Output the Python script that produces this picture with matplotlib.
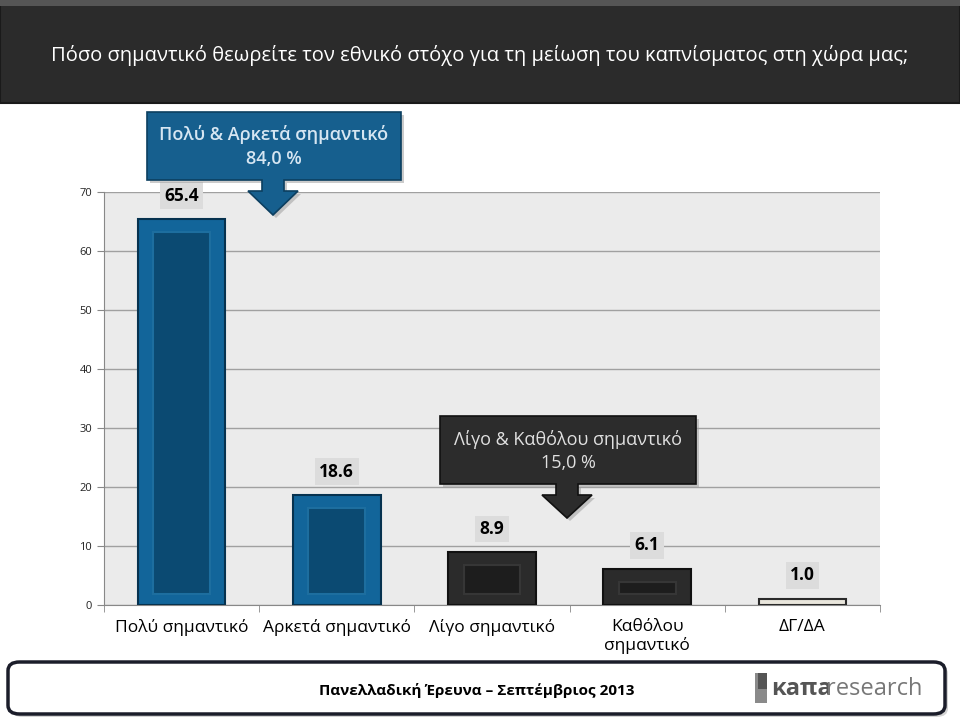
import numpy as np
import matplotlib.pyplot as plt
from matplotlib.patches import Polygon, FancyBboxPatch, Rectangle, Wedge

plt.rcParams['font.family'] = ['Open Sans', 'DejaVu Sans']

# data
categories = ['Πολύ σημαντικό', 'Αρκετά σημαντικό', 'Λίγο σημαντικό',
              'Καθόλου\nσημαντικό', 'ΔΓ/ΔΑ']
values = [65.4, 18.6, 8.9, 6.1, 1.0]
labels = ['65.4', '18.6', '8.9', '6.1', '1.0']
title = 'Πόσο σημαντικό θεωρείτε τον εθνικό στόχο για τη μείωση του καπνίσματος στη χώρα μας;'
callout_top = ['Πολύ & Αρκετά σημαντικό', '84,0 %']
callout_low = ['Λίγο & Καθόλου σημαντικό', '15,0 %']
footer = 'Πανελλαδική Έρευνα – Σεπτέμβριος 2013'

# bar styles (outer, outer edge, inner, inner edge)
styles = [('#12659a', '#06324f', '#0b4a72', '#1d6e9f'),
          ('#12659a', '#06324f', '#0b4a72', '#1d6e9f'),
          ('#2b2b2b', '#111111', '#1d1d1d', '#363636'),
          ('#2b2b2b', '#111111', '#1d1d1d', '#363636'),
          ('#e9e6dc', '#2a2a2a', '#e9e6dc', '#e9e6dc')]

W, H = 960, 720
fig = plt.figure(figsize=(9.6, 7.2), dpi=100)
fig.patch.set_facecolor('white')

def px(x, y):
    return x / W, 1 - y / H

# title banner
fig.patches.append(Rectangle((0, 1 - 103 / H), 1, 103 / H, transform=fig.transFigure,
                             facecolor='#2b2b2b', edgecolor='#1a1a1a', lw=1.5, zorder=0))
fig.patches.append(Rectangle((0, 1 - 6 / H), 1, 6 / H, transform=fig.transFigure,
                             facecolor='#555555', edgecolor='none', zorder=0))
fig.text(*px(480, 55), title, color='white', fontsize=14.5, ha='center', va='center')

ax = fig.add_axes([104 / W, 1 - 605 / H, 776 / W, 413 / H])
ax.set_facecolor('#ebebeb')
x = np.arange(len(values))
ax.set_xlim(-0.5, len(values) - 0.5)
ax.set_ylim(0, 70)
ax.set_yticks(range(0, 71, 10))
ax.yaxis.grid(True, color='#a0a0a0', lw=1)
ax.set_axisbelow(True)
for s in ['top', 'right']:
    ax.spines[s].set_visible(False)
ax.spines['left'].set_color('#888888')
ax.spines['bottom'].set_color('#888888')
ax.tick_params(axis='y', labelsize=8, colors='#888888', labelcolor='#222222',
               length=5, width=0.8)
ax.set_xticks(x)
ax.set_xticklabels(categories, fontsize=12.5, color='black')
ax.tick_params(axis='x', length=0, pad=10)
ax.set_xticks(np.arange(-0.5, len(values)), minor=True)
ax.tick_params(axis='x', which='minor', length=5, color='#888888')

bw = 0.565
for i, v in enumerate(values):
    oc, oe, ic, ie = styles[i]
    ax.bar(x[i], v, width=bw, color=oc, edgecolor=oe, lw=1.5, zorder=3)
    if v > 3:
        ax.bar(x[i], v - 4.0, bottom=1.8, width=bw - 0.2, color=ic, edgecolor=ie,
               lw=1.5, zorder=4)
    ax.annotate(labels[i], (x[i], v), xytext=(0, 17), textcoords='offset points',
                ha='center', va='center', fontsize=12.5, fontweight='bold',
                bbox=dict(boxstyle='square,pad=0.25', facecolor='#dcdcdc', edgecolor='none'),
                zorder=6)

def callout(x0, y0, x1, y1, tipx, tipy, face, edge):
    stem = 11
    head = 25
    neck = y1 + 11
    pts = [(x0, y0), (x1, y0), (x1, y1), (tipx + stem, y1), (tipx + stem, neck),
           (tipx + head, neck), (tipx, tipy), (tipx - head, neck),
           (tipx - stem, neck), (tipx - stem, y1), (x0, y1)]
    shadow = [(a + 3, b + 3) for a, b in pts]
    fig.patches.append(Polygon([px(a, b) for a, b in shadow], closed=True,
                               transform=fig.transFigure, facecolor='#999999',
                               edgecolor='none', alpha=0.5, zorder=7))
    fig.patches.append(Polygon([px(a, b) for a, b in pts], closed=True,
                               transform=fig.transFigure, facecolor=face,
                               edgecolor=edge, lw=1.2, zorder=8))

callout(147, 112, 401, 180, 273, 215, '#165f8e', '#0c3f60')
fig.text(*px(274, 135), callout_top[0], color='#d6e6f2', fontsize=13,
         fontweight='semibold', ha='center', va='center', zorder=9)
fig.text(*px(274, 159), callout_top[1], color='#d6e6f2', fontsize=13,
         fontweight='semibold', ha='center', va='center', zorder=9)

callout(440, 416, 696, 484, 567, 518, '#2c2c2c', '#111111')
fig.text(*px(568, 439), callout_low[0], color='#e0e0e0', fontsize=13,
         ha='center', va='center', zorder=9)
fig.text(*px(568, 463), callout_low[1], color='#e0e0e0', fontsize=13,
         ha='center', va='center', zorder=9)

# footer
fig.patches.append(FancyBboxPatch(px(11, 717), 937 / W, 52 / H,
                                  boxstyle='round,pad=0,rounding_size=0.012',
                                  transform=fig.transFigure, facecolor='#aaaaaa',
                                  edgecolor='none', alpha=0.5, zorder=1))
fig.patches.append(FancyBboxPatch(px(8, 714), 937 / W, 52 / H,
                                  boxstyle='round,pad=0,rounding_size=0.012',
                                  transform=fig.transFigure, facecolor='white',
                                  edgecolor='#1b1d2a', lw=2.5, zorder=2))
fig.text(*px(477, 690), footer, fontsize=11, fontweight='bold', color='black',
         ha='center', va='center', zorder=3)
fig.patches.append(Rectangle(px(755, 703), 12 / W, 30 / H, transform=fig.transFigure,
                             facecolor='#8a8a8a', edgecolor='none', zorder=3))
fig.patches.append(Rectangle(px(758, 689), 9 / W, 16 / H, transform=fig.transFigure,
                             facecolor='#555555', edgecolor='none', zorder=3))
fig.text(*px(771, 689), 'κaπa', fontsize=17, fontweight='bold', color='#555555',
         ha='left', va='center', zorder=3)
fig.text(*px(826, 689), 'research', fontsize=17, color='#777777',
         ha='left', va='center', zorder=3)

fig.savefig('out.png', dpi=100)
